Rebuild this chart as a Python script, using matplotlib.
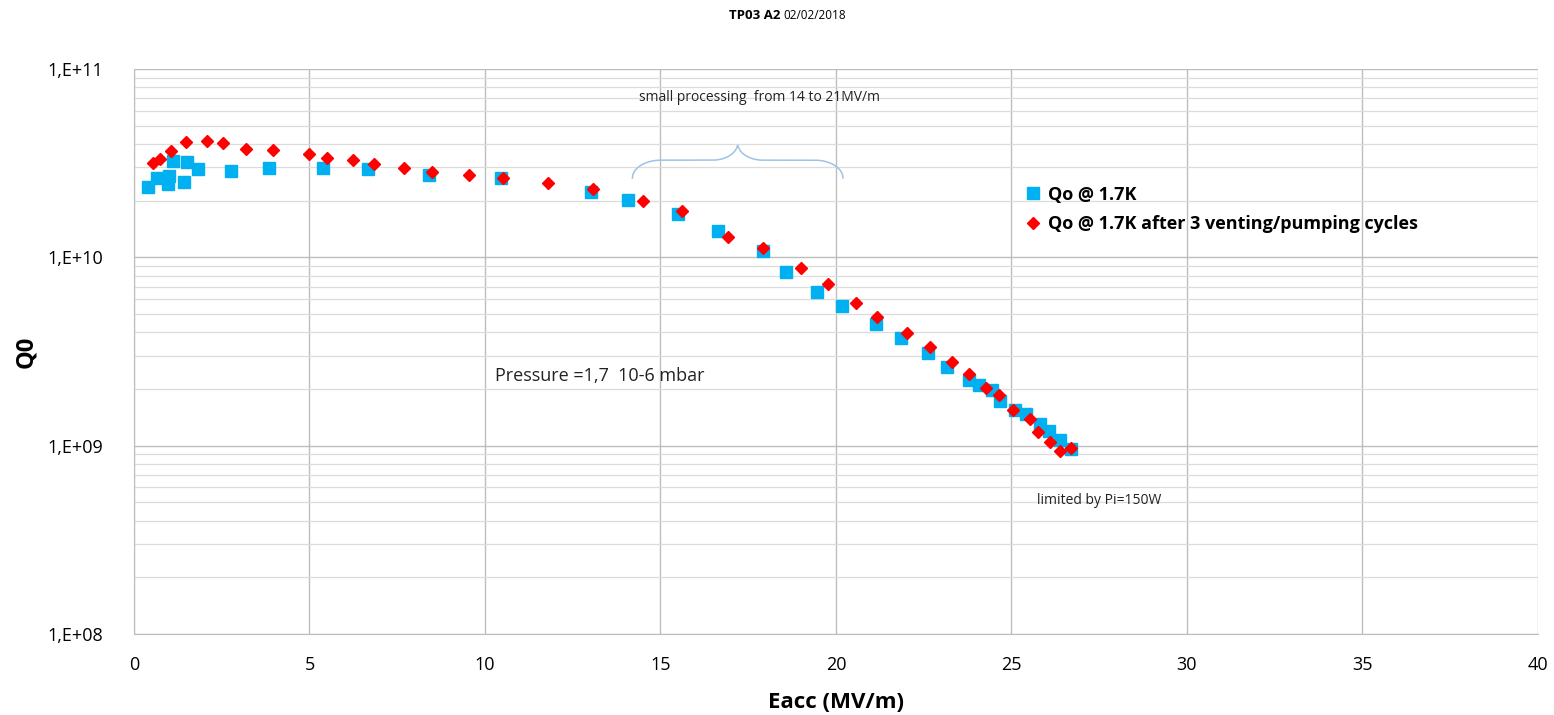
import numpy as np
import matplotlib
matplotlib.use("Agg")
import matplotlib.pyplot as plt
from matplotlib.ticker import FixedLocator, LogLocator, NullFormatter

plt.rcParams['font.family'] = ['Open Sans', 'DejaVu Sans']

# === Data ===
# Qo @ 1.7K
eacc_1 = [0.40, 0.66, 1.00, 0.97, 1.11, 1.42, 1.51, 1.82, 2.76, 3.85, 5.38, 6.67, 8.40, 10.46,
          13.01, 14.08, 15.51, 16.63, 17.91, 18.58, 19.45, 20.16, 21.15, 21.86, 22.61, 23.17,
          23.80, 24.08, 24.44, 24.67, 25.09, 25.40, 25.80, 26.08, 26.38, 26.69]
q0_1 = [2.36e10, 2.63e10, 2.70e10, 2.45e10, 3.24e10, 2.51e10, 3.21e10, 2.94e10, 2.87e10, 2.98e10,
        2.98e10, 2.94e10, 2.74e10, 2.64e10, 2.23e10, 2.01e10, 1.70e10, 1.38e10, 1.08e10, 8.39e9,
        6.52e9, 5.51e9, 4.44e9, 3.74e9, 3.09e9, 2.62e9, 2.23e9, 2.11e9, 1.97e9, 1.73e9,
        1.55e9, 1.48e9, 1.31e9, 1.19e9, 1.07e9, 9.60e8]

# Qo @ 1.7K after 3 venting/pumping cycles
eacc_2 = [0.53, 0.74, 1.05, 1.48, 2.07, 2.54, 3.18, 3.97, 4.99, 5.51, 6.23, 6.85, 7.69, 8.48,
          9.55, 10.50, 11.79, 13.09, 14.51, 15.62, 16.91, 17.93, 18.99, 19.77, 20.58, 21.18,
          22.03, 22.69, 23.30, 23.78, 24.26, 24.64, 25.05, 25.53, 25.76, 26.10, 26.38, 26.69]
q0_2 = [3.16e10, 3.34e10, 3.66e10, 4.10e10, 4.15e10, 4.05e10, 3.78e10, 3.72e10, 3.54e10, 3.38e10,
        3.29e10, 3.13e10, 2.97e10, 2.83e10, 2.72e10, 2.64e10, 2.49e10, 2.31e10, 2.00e10, 1.77e10,
        1.28e10, 1.12e10, 8.77e9, 7.26e9, 5.73e9, 4.84e9, 3.97e9, 3.34e9, 2.78e9, 2.41e9,
        2.03e9, 1.86e9, 1.54e9, 1.38e9, 1.18e9, 1.05e9, 9.40e8, 9.68e8]

x_ticks = [0, 5, 10, 15, 20, 25, 30, 35, 40]
y_ticks = [1e8, 1e9, 1e10, 1e11]
y_tick_labels = ["1,E+08", "1,E+09", "1,E+10", "1,E+11"]

label_1 = "Qo @ 1.7K"
label_2 = "Qo @ 1.7K after 3 venting/pumping cycles"

# processing range marked with a brace (MV/m)
brace_start, brace_end = 14.2, 20.2

# === Plot ===
fig = plt.figure(figsize=(15.54, 7.15), dpi=100)
ax = fig.add_axes([0.0862, 0.1133, 0.9035, 0.7902])

ax.set_yscale('log')
ax.set_xlim(0, 40)
ax.set_ylim(1e8, 1e11)

ax.xaxis.set_major_locator(FixedLocator(x_ticks))
ax.yaxis.set_major_locator(FixedLocator(y_ticks))
ax.set_yticklabels(y_tick_labels)
ax.yaxis.set_minor_locator(LogLocator(base=10, subs=np.arange(2, 10)))
ax.yaxis.set_minor_formatter(NullFormatter())

ax.grid(True, which='major', axis='both', color='#bdbdbd', linewidth=1.0)
ax.grid(True, which='minor', axis='y', color='#dcdcdc', linewidth=0.9)
ax.set_axisbelow(True)

for s in ['top', 'right']:
    ax.spines[s].set_visible(False)
ax.spines['left'].set_color('#bdbdbd')
ax.spines['bottom'].set_color('#bdbdbd')
ax.tick_params(axis='both', which='both', length=0, labelsize=13)
ax.tick_params(axis='x', pad=16)
ax.tick_params(axis='y', pad=22)

ax.plot(eacc_1, q0_1, linestyle='none', marker='s', markersize=8,
        color='#00b0f0', markeredgecolor='#00b0f0', label=label_1, zorder=3)
ax.plot(eacc_2, q0_2, linestyle='none', marker='D', markersize=6.5,
        color='#ff0000', markeredgecolor='#ff0000', label=label_2, zorder=4)

ax.set_xlabel("Eacc (MV/m)", fontsize=16, fontweight='bold', labelpad=13)
ax.set_ylabel("Q0", fontsize=17, fontweight='bold', labelpad=7)

fig.text(0.502, 0.978, "TP03 A2", fontsize=9.5, fontweight='bold', ha='right', va='center')
fig.text(0.504, 0.978, "02/02/2018", fontsize=8.5, ha='left', va='center')

leg = ax.legend(loc='upper left', bbox_to_anchor=(0.625, 0.822), frameon=False,
                handlelength=0.6, handletextpad=0.5, labelspacing=0.64,
                prop={'weight': 'bold', 'size': 13})

# brace over the processing range, built in log10(Q) units
t = np.linspace(0, 1, 400)
xs = brace_start + (brace_end - brace_start) * t
u = np.abs(2 * t - 1)
base, h1, h2, a, b = 10.421, 0.095, 0.09, 0.27, 0.24
lift = np.full_like(u, h1)
end = u > 1 - a
lift[end] = h1 * np.sqrt(np.clip(1 - ((u[end] - (1 - a)) / a) ** 2, 0, 1))
cen = u < b
lift[cen] = h1 + h2 * (1 - np.sqrt(np.clip(1 - ((b - u[cen]) / b) ** 2, 0, 1)))
ax.plot(xs, 10 ** (base + lift), color='#9dc3e6', linewidth=1.1, zorder=2)

ax.text(17.83, 10 ** 10.85, "small processing  from 14 to 21MV/m", fontsize=10,
        ha='center', va='center', color='#222222')
ax.text(10.3, 10 ** 9.37, "Pressure =1,7  10-6 mbar", fontsize=13,
        ha='left', va='center', color='#222222')
ax.text(27.5, 10 ** 8.711, "limited by Pi=150W", fontsize=10,
        ha='center', va='center', color='#222222')

fig.savefig("out.png", dpi=100)
